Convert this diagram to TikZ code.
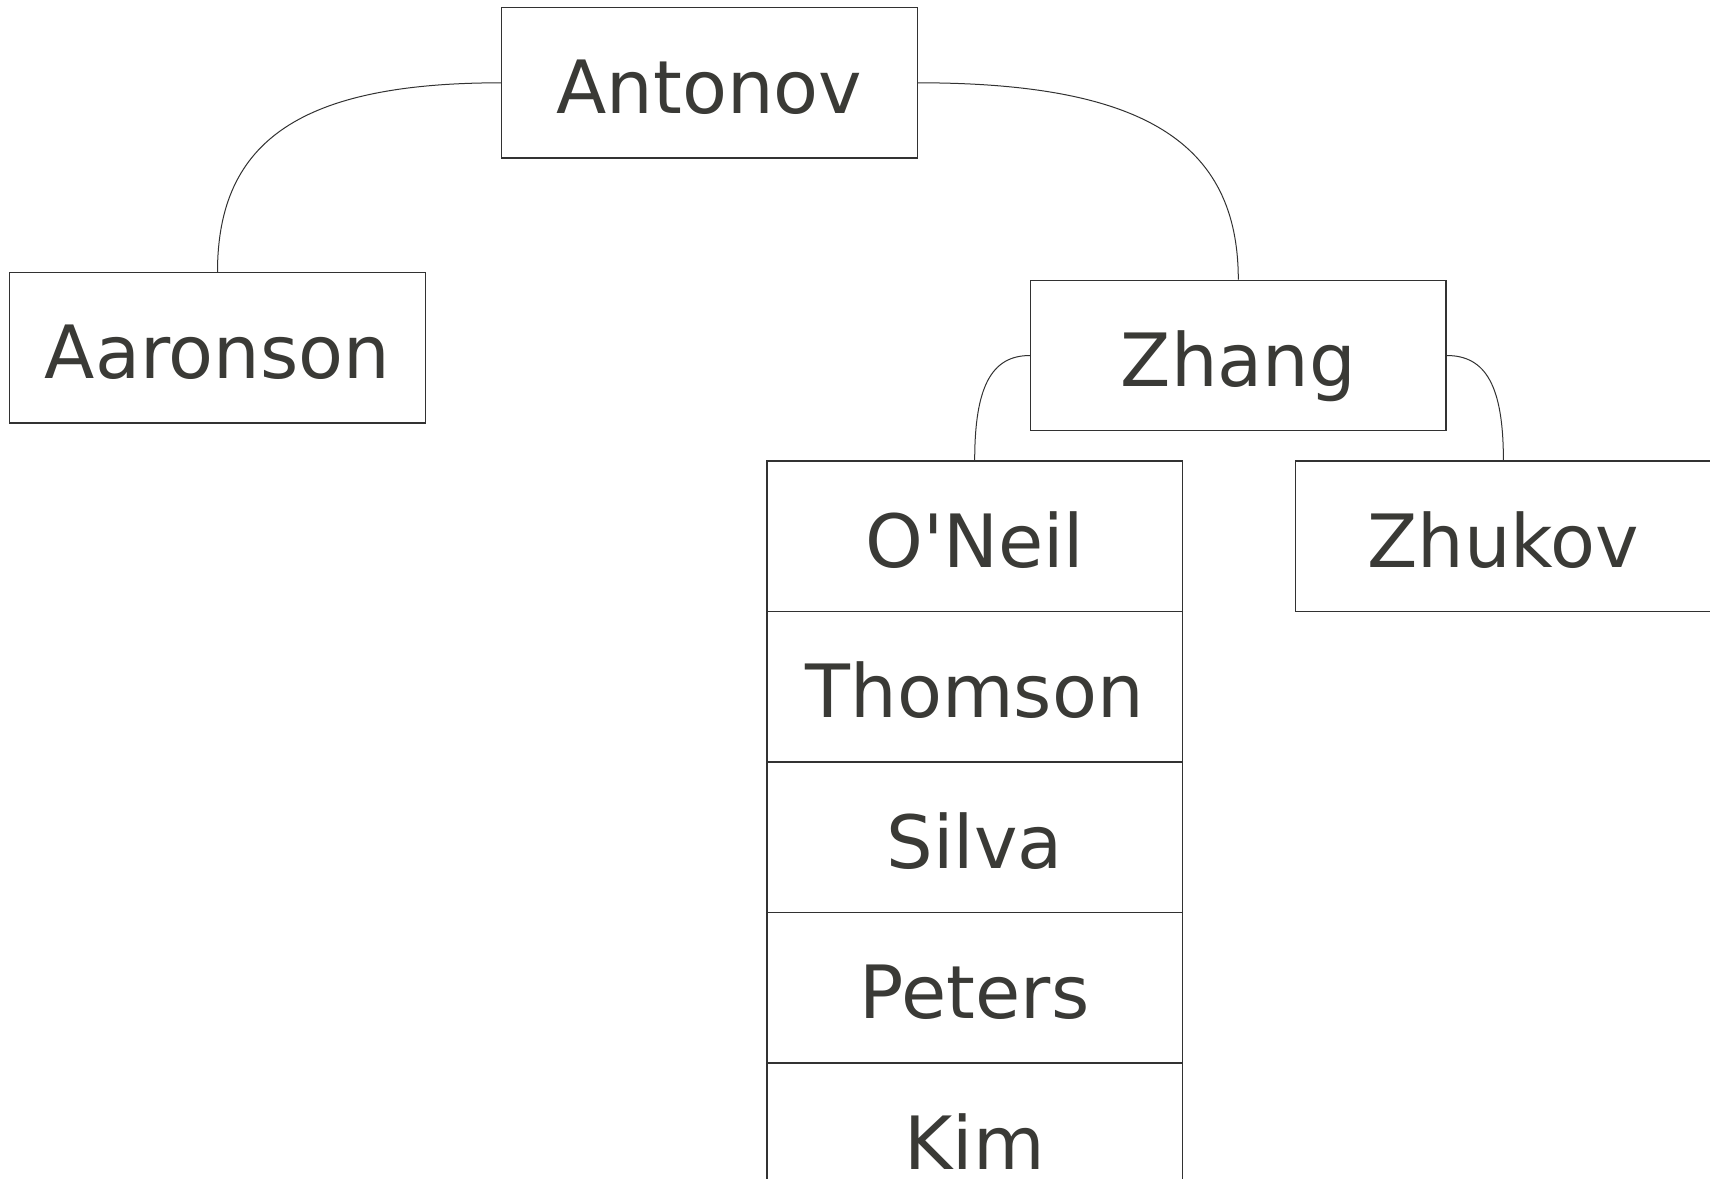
\documentclass[tikz,border=0pt]{standalone}
\usepackage{fontspec}
\setmainfont{DejaVu Sans}
\usetikzlibrary{calc}
\definecolor{txt}{RGB}{58,58,54}
\definecolor{ln}{RGB}{50,50,50}
\tikzset{
  box/.style={draw=ln, line width=0.6pt, fill=white, rectangle, inner sep=0pt,
    minimum width=207.75pt, minimum height=75.25pt,
    text height=31pt, text depth=0pt, text=txt,
    font=\fontsize{36.75pt}{40pt}\selectfont},
  conn/.style={draw=ln, line width=0.5pt,
    to path={.. controls ($(\tikztostart)!0.7!(\tikztotarget|-\tikztostart)$) and ($(\tikztotarget)!0.7!(\tikztotarget|-\tikztostart)$) .. (\tikztotarget)}}
}
\begin{document}
\begin{tikzpicture}[x=0.5pt,y=-0.5pt]
\clip (0,0) rectangle (1710,1179);
\fill[white] (0,0) rectangle (1710,1179);
\node[box] (antonov) at (709.5,82.8) {Antonov};
\node[box] (aaronson) at (217.5,347.8) {Aaronson};
\node[box] (zhang) at (1238.3,355.5) {Zhang};
\node[box] (oneil) at (974.7,536.3) {O\textquotesingle Neil};
\node[box] (thomson) at (974.7,686.8) {Thomson};
\node[box] (silva) at (974.7,837.3) {Silva};
\node[box] (peters) at (974.7,987.8) {Peters};
\node[box] (kim) at (974.7,1138.3) {Kim};
\node[box] (zhukov) at (1503.4,536.3) {Zhukov};
\draw[conn] (antonov.west) to (aaronson.north);
\draw[conn] (antonov.east) to (zhang.north);
\draw[conn] (zhang.west) to (oneil.north);
\draw[conn] (zhang.east) to (zhukov.north);
\end{tikzpicture}
\end{document}
